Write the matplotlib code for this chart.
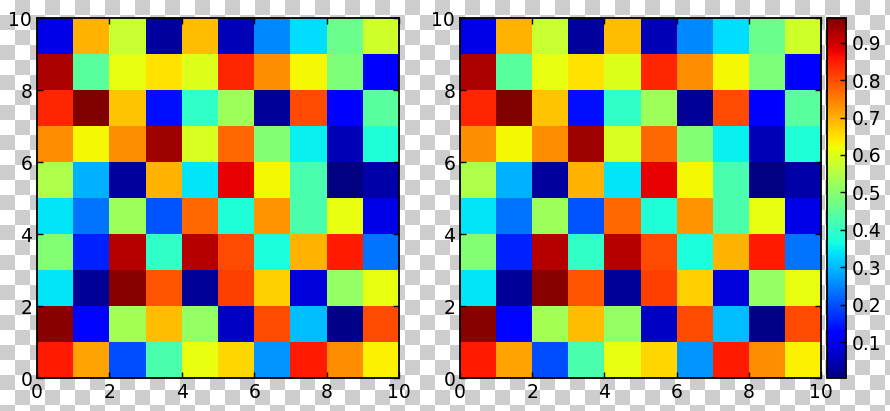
import numpy as np
import matplotlib
matplotlib.use("Agg")
import matplotlib.pyplot as plt

# cell values, rows from bottom (y=0) to top (y=9)
row0 = [0.851, 0.711, 0.196, 0.427, 0.610, 0.658, 0.264, 0.851, 0.735, 0.634]
row1 = [0.956, 0.129, 0.533, 0.687, 0.514, 0.062, 0.802, 0.302, 0.014, 0.802]
row2 = [0.341, 0.023, 0.956, 0.793, 0.023, 0.812, 0.668, 0.081, 0.514, 0.610]
row3 = [0.495, 0.158, 0.918, 0.398, 0.918, 0.802, 0.374, 0.697, 0.851, 0.235]
row4 = [0.341, 0.235, 0.523, 0.206, 0.774, 0.379, 0.726, 0.427, 0.610, 0.091]
row5 = [0.543, 0.293, 0.033, 0.697, 0.341, 0.879, 0.625, 0.427, 0.004, 0.038]
row6 = [0.735, 0.625, 0.735, 0.937, 0.591, 0.774, 0.495, 0.350, 0.052, 0.379]
row7 = [0.841, 0.966, 0.677, 0.139, 0.398, 0.523, 0.023, 0.802, 0.115, 0.447]
row8 = [0.928, 0.447, 0.610, 0.649, 0.600, 0.841, 0.735, 0.625, 0.485, 0.119]
row9 = [0.091, 0.697, 0.572, 0.033, 0.687, 0.052, 0.254, 0.331, 0.466, 0.581]
data = np.array([row0, row1, row2, row3, row4, row5, row6, row7, row8, row9])

axis_ticks = [0, 2, 4, 6, 8, 10]
cbar_ticks = [0.1, 0.2, 0.3, 0.4, 0.5, 0.6, 0.7, 0.8, 0.9]

W, H = 890, 411
fig = plt.figure(figsize=(W / 100, H / 100), dpi=100)
fig.patch.set_alpha(0)

# transparency checkerboard behind everything
yy, xx = np.indices((H, W))
mask = ((yy // 15 + xx // 15) % 2) == 1
bg = np.where(mask, 205, 255).astype(np.uint8)
fig.figimage(np.dstack([bg, bg, bg]), xo=0, yo=0, origin='upper', zorder=-10)


def px_rect(x0, x1, y0, y1):
    return [x0 / W, 1 - y1 / H, (x1 - x0) / W, (y1 - y0) / H]


ax1 = fig.add_axes(px_rect(37, 399, 18, 378))
ax2 = fig.add_axes(px_rect(460, 821, 18, 378))
cax = fig.add_axes(px_rect(827, 846, 18, 378))

for ax in (ax1, ax2):
    mesh = ax.pcolormesh(data, cmap='jet', antialiased=False)
    ax.set_xlim(0, 10)
    ax.set_ylim(0, 10)
    ax.set_xticks(axis_ticks)
    ax.set_yticks(axis_ticks)
    ax.tick_params(direction='in', top=True, right=True, length=4, width=1,
                   labelsize=13.5, pad=3.5)
    for s in ax.spines.values():
        s.set_linewidth(1.3)

cb = fig.colorbar(mesh, cax=cax)
cb.set_ticks(cbar_ticks)
cb.ax.tick_params(direction='in', length=4, width=1, labelsize=13.5, pad=4)
cb.outline.set_linewidth(1.3)

fig.savefig("out.png", dpi=100)
